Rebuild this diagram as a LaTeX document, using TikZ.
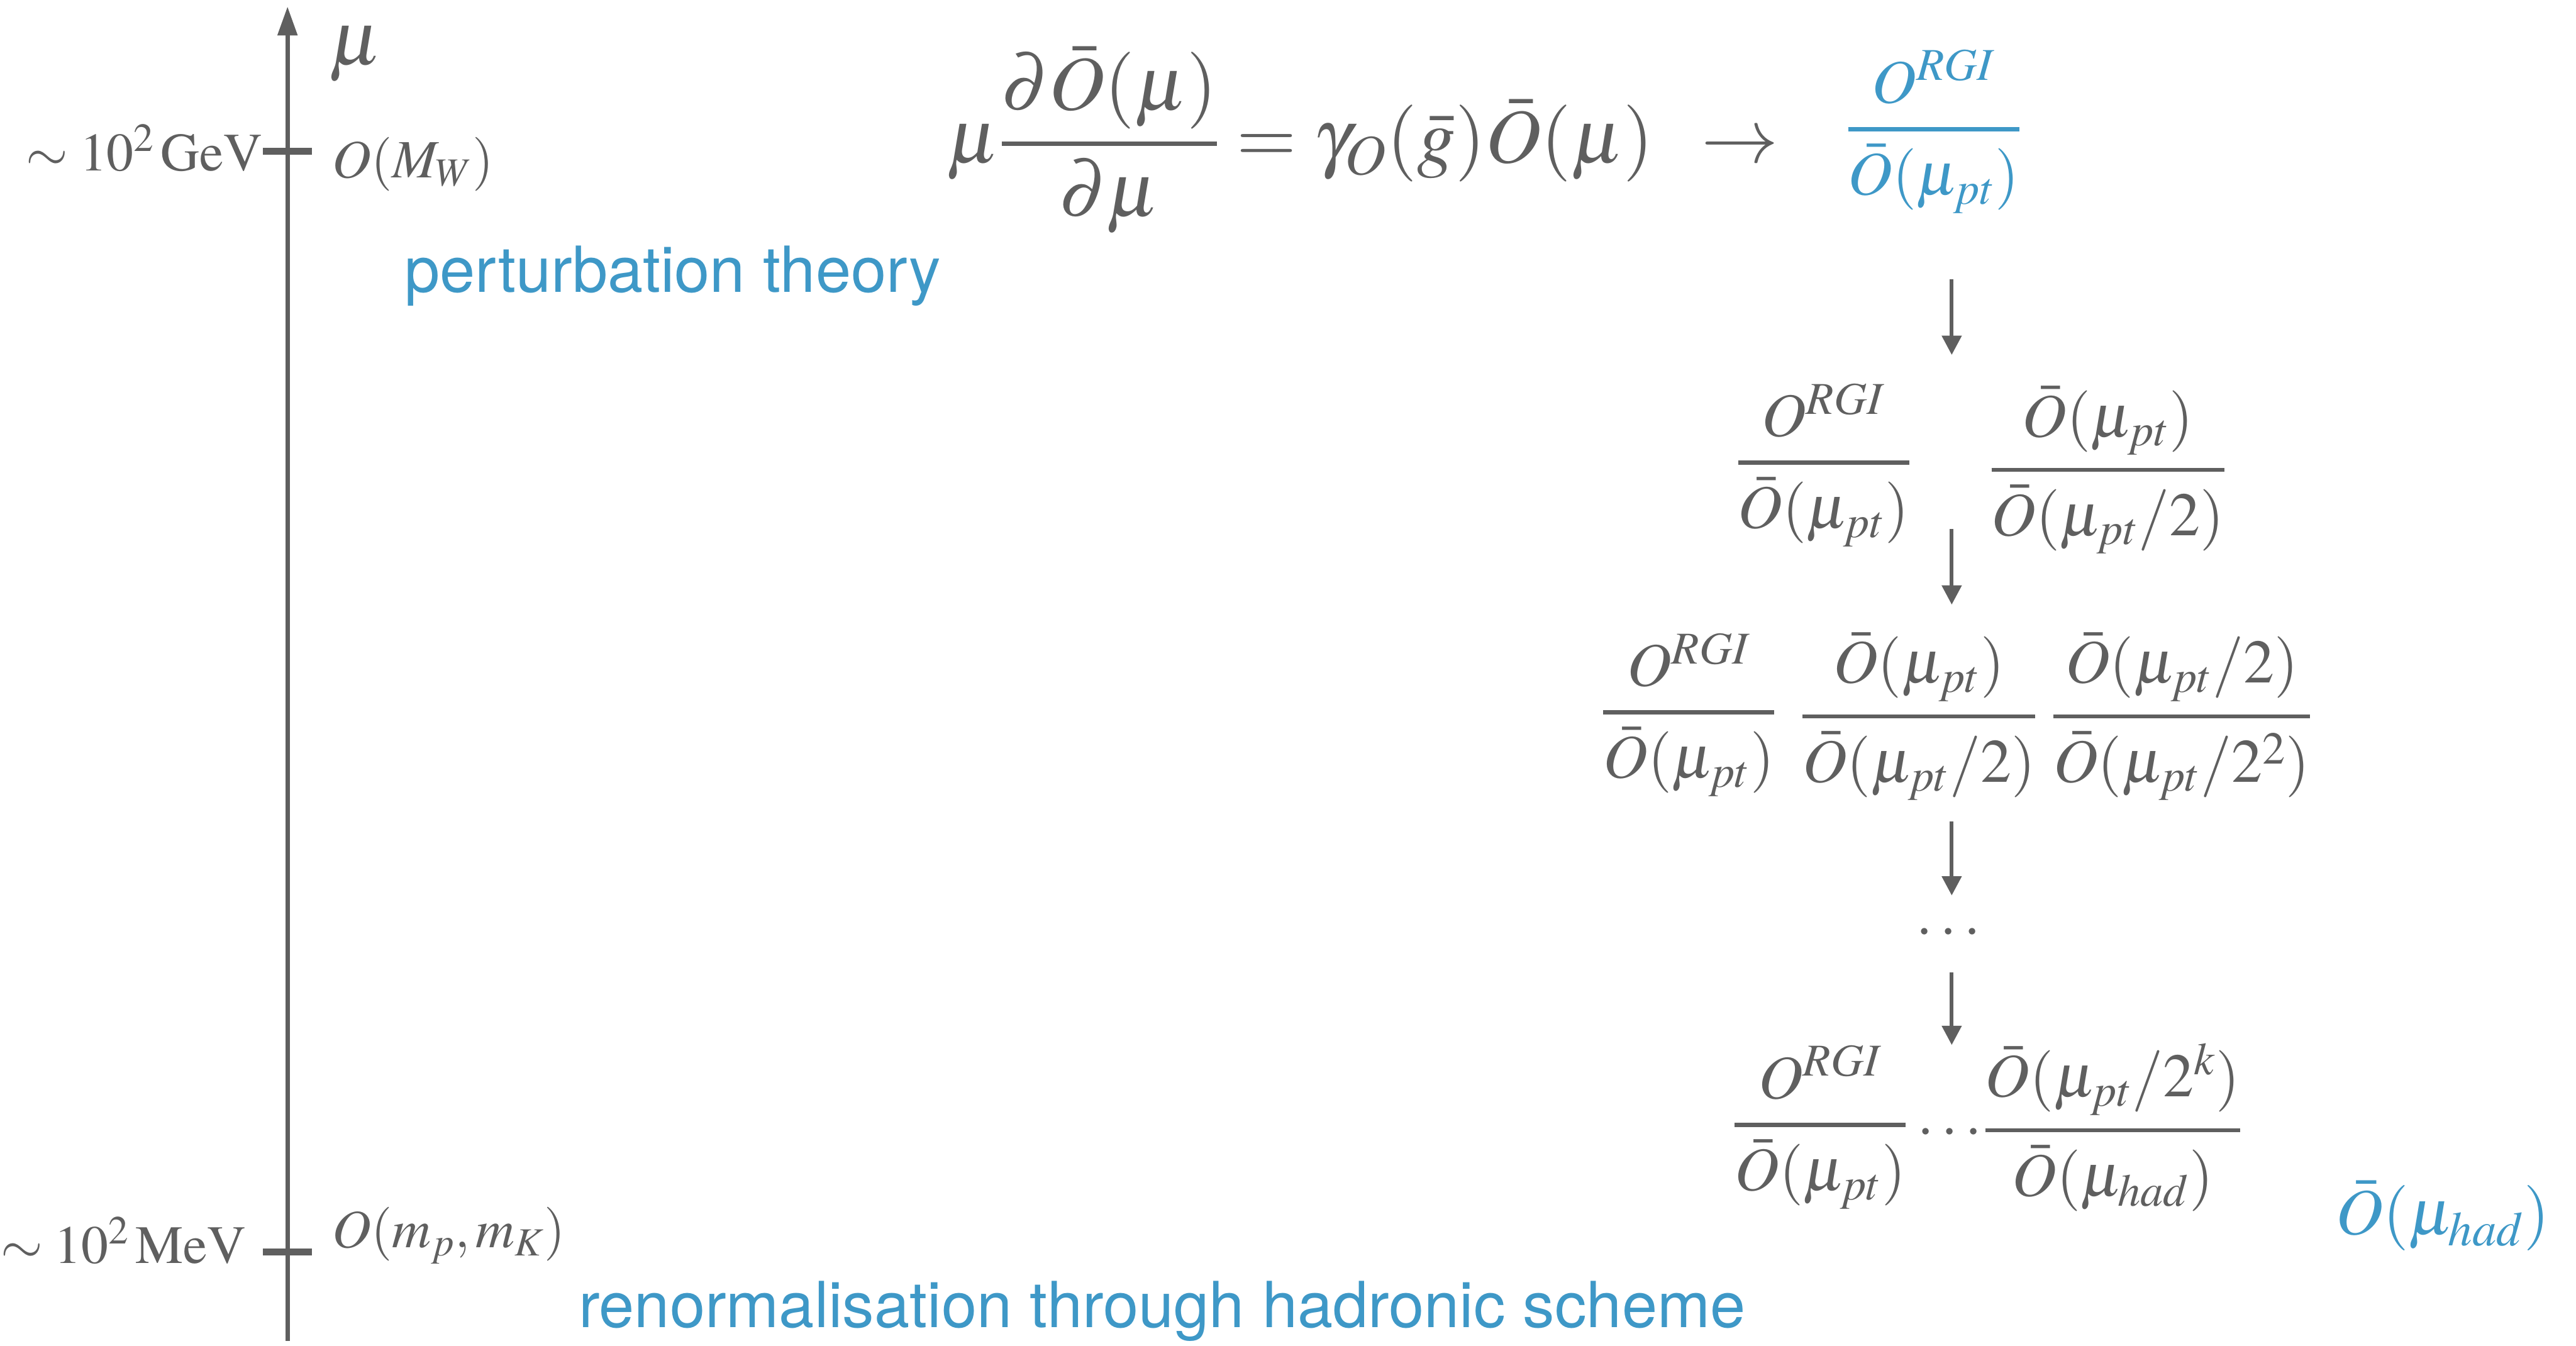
\documentclass[tikz,border=0pt]{standalone}
\usepackage{amsmath}
\usepackage{mathptmx}
\usepackage[no-math]{fontspec}
\setsansfont{TeX Gyre Heros}
\usetikzlibrary{positioning,calc,arrows.meta}
\definecolor{inkgray}{HTML}{5F5F5F}
\definecolor{regimeblue}{HTML}{3E98C7}
\newcommand{\ratiofrac}[2]{\genfrac{}{}{2.2pt}{0}{#1}{#2}}
\newcommand{\Obar}{\bar{O}}
\tikzset{
  axisline/.style={draw=inkgray, line width=2.2pt, -{Triangle[length=15pt,width=10pt]}},
  scaletick/.style={draw=inkgray, line width=3.5pt},
  flow/.style={draw=inkgray, line width=2pt, -{Triangle[length=10pt,width=10pt]}},
  scalelabel/.style={text=inkgray, inner sep=0pt, font=\fontsize{28}{32}\selectfont},
  ratio/.style={text=inkgray, inner sep=0pt, font=\fontsize{32}{38}\selectfont},
  bigratio/.style={text=inkgray, inner sep=0pt, font=\fontsize{40}{46}\selectfont},
  regime/.style={text=regimeblue, inner sep=0pt, font=\sffamily\fontsize{33}{36}\selectfont}
}

\begin{document}
\begin{tikzpicture}[x=0.3mm,y=-0.3mm]
  \useasboundingbox (0,0) rectangle (1568,819);
  % energy axis
  \coordinate (bottom) at (175,816);
  \coordinate (top) at (175,4);
  \draw[axisline] (bottom) -- (top);
  \node[bigratio, anchor=west] (mu) at (200,33) {$\mu$};
  \coordinate (gev) at (175,92);
  \coordinate (mev) at (175,762);
  \draw[scaletick] (gev) ++(-15,0) -- ++(30,0);
  \draw[scaletick] (mev) ++(-15,0) -- ++(30,0);
  \node[scalelabel, anchor=east] (gevlabel) at (160,90) {$\sim 10^2\,\mathrm{GeV}$};
  \node[scalelabel, anchor=east] (mevlabel) at (150,755) {$\sim 10^2\,\mathrm{MeV}$};
  \node[scalelabel, anchor=west] (mw) at (202,100) {$O(M_W)$};
  \node[scalelabel, anchor=west] (mpk) at (202,752) {$O(m_p,m_K)$};
  % regimes
  \node[regime, anchor=west] (pert) at (246,168) {perturbation theory};
  \node[regime, anchor=west] (hadr) at (352,798) {renormalisation through hadronic scheme};
  % running
  \node[bigratio, anchor=west] (rge) at (576,85)
    {$\displaystyle\mu\ratiofrac{\partial\Obar(\mu)}{\partial\mu}=\gamma_O(\bar{g})\Obar(\mu)\hspace{0.4em}\rightarrow$};
  \node[ratio, text=regimeblue] (start) at (1177,80) {$\ratiofrac{O^{RGI}}{\Obar(\mu_{pt})}$};
  \node[ratio] (r2a) at (1110,283) {$\ratiofrac{O^{RGI}}{\Obar(\mu_{pt})}$};
  \node[ratio] (r2b) at (1283,286) {$\ratiofrac{\Obar(\mu_{pt})}{\Obar(\mu_{pt}/2)}$};
  \node[ratio] (r3a) at (1028,435) {$\ratiofrac{O^{RGI}}{\Obar(\mu_{pt})}$};
  \node[ratio] (r3b) at (1168,436) {$\ratiofrac{\Obar(\mu_{pt})}{\Obar(\mu_{pt}/2)}$};
  \node[ratio] (r3c) at (1328,436) {$\ratiofrac{\Obar(\mu_{pt}/2)}{\Obar(\mu_{pt}/2^2)}$};
  \node[ratio] (gap) at (1188,568) {$\cdots$};
  \node[ratio] (r4a) at (1108,686) {$\ratiofrac{O^{RGI}}{\Obar(\mu_{pt})}$};
  \node[ratio] (r4dots) at (1189,690) {$\cdots$};
  \node[ratio] (r4b) at (1286,686) {$\ratiofrac{\Obar(\mu_{pt}/2^k)}{\Obar(\mu_{had})}$};
  \node[ratio, text=regimeblue, font=\fontsize{34}{40}\selectfont] (had) at (1487,740) {$\Obar(\mu_{had})$};
  % steps
  \coordinate (s1a) at (1188,170);
  \coordinate (s1b) at (1188,216);
  \coordinate (s2a) at (1188,322);
  \coordinate (s2b) at (1188,368);
  \coordinate (s3a) at (1188,500);
  \coordinate (s3b) at (1188,545);
  \coordinate (s4a) at (1188,592);
  \coordinate (s4b) at (1188,636);
  \draw[flow] (s1a) -- (s1b);
  \draw[flow] (s2a) -- (s2b);
  \draw[flow] (s3a) -- (s3b);
  \draw[flow] (s4a) -- (s4b);
\end{tikzpicture}
\end{document}
